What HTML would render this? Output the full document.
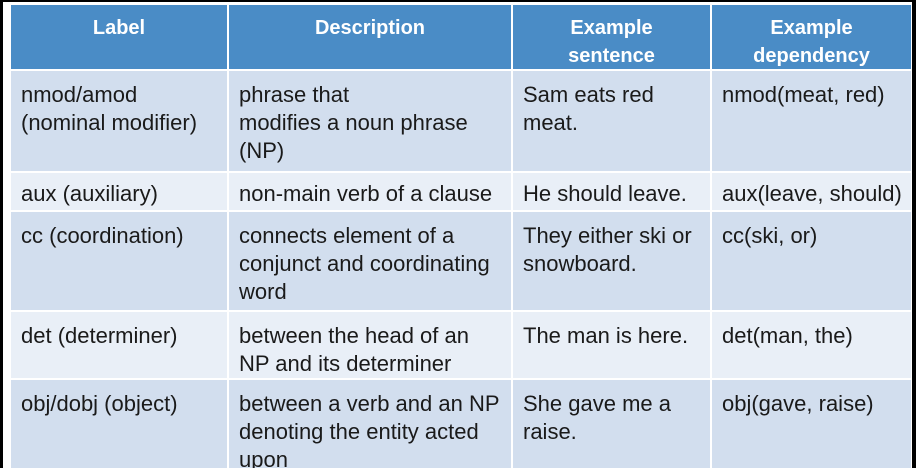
<!DOCTYPE html>
<html><head><meta charset="utf-8"><style>
html,body{margin:0;width:916px;height:468px;overflow:hidden;background:#fff;position:relative;font-family:"Liberation Sans",sans-serif}
#frame{position:absolute;left:0;top:0;width:916px;height:468px;box-sizing:border-box;border-top:2px solid #000;border-left:3px solid #000;border-right:4px solid #000}
#wrap{position:absolute;left:3px;top:2px;width:909px;height:466px;background:#fff;overflow:hidden}
.c{position:absolute;box-sizing:border-box;font-size:22px;line-height:28px;color:#1a1a1a;padding:10px 10px 0 10px;white-space:nowrap}
.h{background:#4a8cc6;color:#fff;font-weight:bold;text-align:center;font-size:20px;line-height:28px;padding-top:9px}
.o{background:#d2deee}.e{background:#e9eff7}
.s{padding-top:7px}
</style></head><body>
<div id="frame"></div>
<div id="wrap">
<div id="t"></div>
</div>
<script>
const cols=[8,226,510,709,910];
const rows=[3,69,171,210,310,378,472];
const head=["Label","Description","Example<br>sentence","Example<br>dependency"];
const data=[
["nmod/amod<br>(nominal modifier)","phrase that<br>modifies a noun phrase<br>(NP)","Sam eats red<br>meat.","nmod(meat, red)"],
["aux (auxiliary)","non-main verb of a clause","He should leave.","aux(leave, should)"],
["cc (coordination)","connects element of a<br>conjunct and coordinating<br>word","They either ski or<br>snowboard.","cc(ski, or)"],
["det (determiner)","between the head of an<br>NP and its determiner","The man is here.","det(man, the)"],
["obj/dobj (object)","between a verb and an NP<br>denoting the entity acted<br>upon","She gave me a<br>raise.","obj(gave, raise)"]];
const t=document.getElementById('t');
const all=[head].concat(data);
all.forEach((r,i)=>r.forEach((txt,j)=>{
const d=document.createElement('div');
d.className='c '+(i==0?'h':(i%2?'o':'e'))+(i==2?' s':'');
d.style.left=cols[j]+'px';d.style.top=rows[i]+'px';
d.style.width=(cols[j+1]-cols[j]-2)+'px';d.style.height=(rows[i+1]-rows[i]-2)+'px';
d.innerHTML=txt;


t.appendChild(d);}));
</script>
</body></html>
